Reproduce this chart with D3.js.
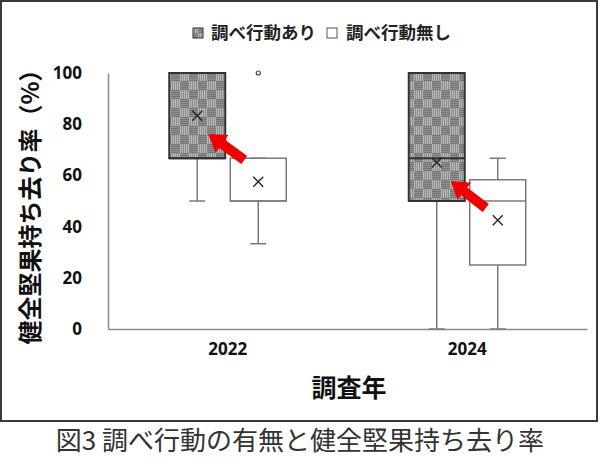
<!DOCTYPE html>
<html><head><meta charset="utf-8">
<script src="https://cdn.jsdelivr.net/npm/d3@7"></script>
<style>
html,body{margin:0;padding:0;background:#fff;}
svg{display:block;font-family:"Noto Sans CJK JP","Noto Sans",sans-serif;}
</style></head>
<body>
<svg id="chart" width="600" height="476"></svg>
<script>
const categories = ["2022", "2024"];
const seriesNames = ["調べ行動あり", "調べ行動無し"];
// [min, q1, median, q3, max]
const withSurvey = [[50, 66.7, 66.7, 100, 100], [0, 50, 66.7, 100, 100]];
const withoutSurvey = [[33.3, 50, 50, 66.7, 66.7], [0, 25, 50, 58.3, 66.7]];
const withMeans = [83.3, 65];
const withoutMeans = [57.5, 42.5];
const withoutOutliers = [[100], []];
const yTicks = [0, 20, 40, 60, 80, 100];
// arrow annotations: [tipValue, tailValue] per category
const arrowValues = [[76.2, 66], [57.8, 47.3]];

const svg = d3.select("#chart");
const defs = svg.append("defs");
const pat = defs.append("pattern").attr("id","chk").attr("patternUnits","userSpaceOnUse")
  .attr("width",18).attr("height",18);
pat.append("rect").attr("width",18).attr("height",18).attr("fill","#8e8e8e");
for (let i=0;i<9;i+=2){
  pat.append("rect").attr("x",i).attr("y",0).attr("width",1).attr("height",9).attr("fill","#b8b8b8");
  pat.append("rect").attr("x",9+i).attr("y",9).attr("width",1).attr("height",9).attr("fill","#b8b8b8");
  pat.append("rect").attr("x",9).attr("y",i).attr("width",9).attr("height",1).attr("fill","#767676");
  pat.append("rect").attr("x",0).attr("y",9+i).attr("width",9).attr("height",1).attr("fill","#767676");
}

// frame
svg.append("rect").attr("x",1).attr("y",1).attr("width",596).attr("height",420)
  .attr("fill","none").attr("stroke","#3a3a3a").attr("stroke-width",2);

const pLeft=108, pRight=587, pTop=73, pBottom=329;
const x = d3.scaleBand().domain(categories).range([pLeft,pRight]);
const y = d3.scaleLinear().domain([0,100]).range([pBottom,pTop]);

// axes
const yAxis = svg.append("g").attr("transform",`translate(${pLeft},0)`)
  .call(d3.axisLeft(y).tickValues(yTicks).tickSize(0).tickPadding(26));
yAxis.select(".domain").attr("stroke","#8a8a8a").attr("stroke-width",1.5);
yAxis.selectAll("text").attr("font-size",17).attr("font-weight","bold").attr("fill","#111")
  .attr("font-family","'Noto Sans','Open Sans',sans-serif");

const xAxis = svg.append("g").attr("transform",`translate(0,${pBottom})`)
  .call(d3.axisBottom(x).tickSize(0).tickPadding(14));
xAxis.select(".domain").attr("stroke","#8a8a8a").attr("stroke-width",1.5);
xAxis.selectAll("text").attr("font-size",17).attr("font-weight","bold").attr("fill","#111")
  .attr("font-family","'Noto Sans','Open Sans',sans-serif");

const bw = 56, gap = 5;
function drawBox(cx0, stats, mean, dark, outliers){
  const cx = cx0 + bw/2;
  const g = svg.append("g");
  const [mn,q1,md,q3,mx] = stats;
  const wc = "#7a7a7a";
  g.append("line").attr("x1",cx).attr("x2",cx).attr("y1",y(mn)).attr("y2",y(q1)).attr("stroke",wc).attr("stroke-width",1.5);
  g.append("line").attr("x1",cx).attr("x2",cx).attr("y1",y(q3)).attr("y2",y(mx)).attr("stroke",wc).attr("stroke-width",1.5);
  g.append("line").attr("x1",cx-8).attr("x2",cx+8).attr("y1",y(mn)).attr("y2",y(mn)).attr("stroke",wc).attr("stroke-width",1.5);
  g.append("line").attr("x1",cx-8).attr("x2",cx+8).attr("y1",y(mx)).attr("y2",y(mx)).attr("stroke",wc).attr("stroke-width",1.5);
  g.append("rect").attr("x",cx0).attr("y",y(q3)).attr("width",bw).attr("height",y(q1)-y(q3))
    .attr("fill",dark?"url(#chk)":"#fff").attr("stroke",dark?"#333":"#7a7a7a").attr("stroke-width",dark?2:1.5);
  g.append("line").attr("x1",cx0).attr("x2",cx0+bw).attr("y1",y(md)).attr("y2",y(md))
    .attr("stroke",dark?"#333":"#7a7a7a").attr("stroke-width",dark?2:1.5);
  const m = y(mean), s=5;
  g.append("path").attr("d",`M${cx-s},${m-s}L${cx+s},${m+s}M${cx-s},${m+s}L${cx+s},${m-s}`)
    .attr("stroke","#222").attr("stroke-width",1.4);
  outliers.forEach(o=>{
    g.append("circle").attr("cx",cx).attr("cy",y(o)).attr("r",2).attr("fill","#fff").attr("stroke","#444").attr("stroke-width",1.2);
  });
}

categories.forEach((c,i)=>{
  const c0 = x(c) + x.bandwidth()/2;
  const xw = c0 - gap/2 - bw;
  const xo = c0 + gap/2;
  drawBox(xw, withSurvey[i], withMeans[i], true, []);
  drawBox(xo, withoutSurvey[i], withoutMeans[i], false, withoutOutliers[i]);
  // red arrow
  const [tv, lv] = arrowValues[i];
  const tip = [xw + bw - 17 + i*3, y(tv)];
  const tail = [xo + 14 + i*2, y(lv)];
  const ang = Math.atan2(tip[1]-tail[1], tip[0]-tail[0]);
  const len = Math.hypot(tip[0]-tail[0], tip[1]-tail[1]);
  const hl = 17, hw = 11, sw = 5;
  const pts = [[0,-sw],[len-hl,-sw],[len-hl,-hw],[len,0],[len-hl,hw],[len-hl,sw],[0,sw]];
  svg.append("polygon")
    .attr("points", pts.map(p=>p.join(",")).join(" "))
    .attr("transform",`translate(${tail[0]},${tail[1]}) rotate(${ang*180/Math.PI})`)
    .attr("fill","#ee0000");
});

// legend
const lg = svg.append("g").attr("transform","translate(0,33)");
lg.append("rect").attr("x",193).attr("y",-5).attr("width",10).attr("height",10).attr("fill","url(#chk)").attr("stroke","#333").attr("stroke-width",1);
lg.append("text").attr("x",211).attr("y",0).attr("dy","0.36em").attr("font-size",17.5).attr("font-weight","bold").attr("fill","#222").text(seriesNames[0]);
lg.append("rect").attr("x",327).attr("y",-5).attr("width",10).attr("height",10).attr("fill","#fff").attr("stroke","#555").attr("stroke-width",1);
lg.append("text").attr("x",346).attr("y",0).attr("dy","0.36em").attr("font-size",17.5).attr("font-weight","bold").attr("fill","#222").text(seriesNames[1]);

// axis titles
svg.append("text").attr("transform","translate(30,201) rotate(-90)").attr("text-anchor","middle")
  .attr("dy","0.36em").attr("font-size",24).attr("font-weight","bold").attr("fill","#111").text("健全堅果持ち去り率（%）");
svg.append("text").attr("x",349).attr("y",388).attr("text-anchor","middle").attr("dy","0.36em")
  .attr("font-size",25).attr("font-weight","bold").attr("fill","#111").text("調査年");

// caption
svg.append("text").attr("x",300).attr("y",441).attr("text-anchor","middle").attr("dy","0.36em")
  .attr("font-size",26).attr("fill","#333").text("図3 調べ行動の有無と健全堅果持ち去り率");
</script>
</body></html>
